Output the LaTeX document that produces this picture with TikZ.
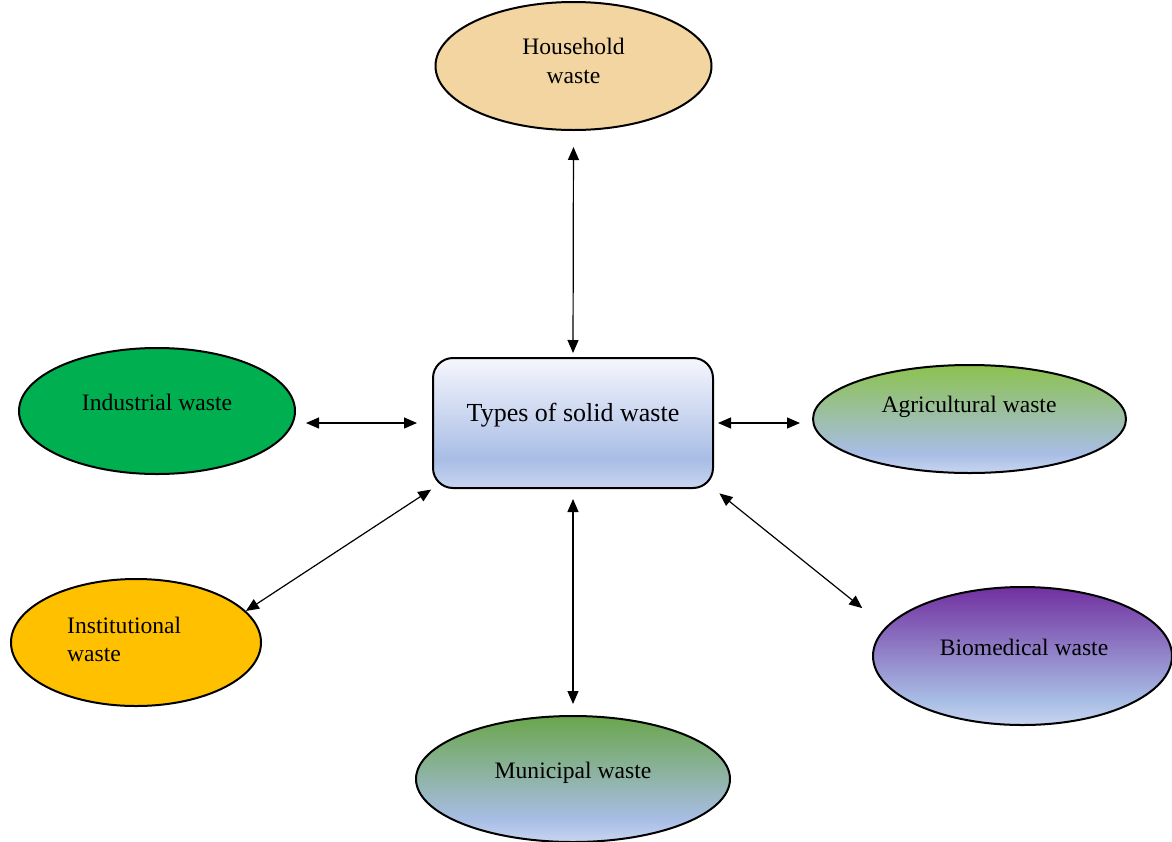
\documentclass[tikz,border=0pt]{standalone}
\usepackage{fontspec}
\setmainfont{Liberation Serif}
\usetikzlibrary{shapes.geometric,arrows.meta}
\definecolor{lbl}{RGB}{200,213,240}
\definecolor{mbl}{RGB}{168,189,229}
\definecolor{agrg}{RGB}{140,194,78}
\definecolor{munig}{RGB}{106,166,76}
\definecolor{biop}{RGB}{113,48,160}
\definecolor{boxtop}{RGB}{246,246,253}
\definecolor{papyrus}{RGB}{242,213,160}
\definecolor{indg}{RGB}{0,176,80}
\definecolor{insty}{RGB}{255,192,0}
\pgfdeclareverticalshading{agrishade}{100bp}{color(0bp)=(lbl); color(25bp)=(lbl); color(34bp)=(mbl); color(75bp)=(agrg); color(100bp)=(agrg)}
\pgfdeclareverticalshading{munishade}{100bp}{color(0bp)=(lbl); color(25bp)=(lbl); color(34bp)=(mbl); color(75bp)=(munig); color(100bp)=(munig)}
\pgfdeclareverticalshading{bioshade}{100bp}{color(0bp)=(lbl); color(25bp)=(lbl); color(34bp)=(mbl); color(75bp)=(biop); color(100bp)=(biop)}
\pgfdeclareverticalshading{boxshade}{100bp}{color(0bp)=(lbl); color(25bp)=(lbl); color(36bp)=(mbl); color(75bp)=(boxtop); color(100bp)=(boxtop)}
\tikzset{
  oval/.style={ellipse, draw=black, line width=2pt, inner sep=0pt},
  lbl/.style={font=\fontsize{23.6}{28.5}\selectfont, inner sep=0pt, anchor=base},
  arr/.style={{Triangle[length=13pt,width=11pt]}-{Triangle[length=13pt,width=11pt]}, line width=1.2pt, black}
}
\begin{document}
\begin{tikzpicture}[x=1pt,y=-1pt]
\useasboundingbox (0,0) rectangle (1172,841);
\fill[white] (0,0) rectangle (1172,841);
% centre box
\node[draw=black, line width=2pt, rounded corners=20pt, shading=boxshade,
      minimum width=280pt, minimum height=130pt, inner sep=0pt] (box) at (573,423) {};
\node[font=\fontsize{26}{30}\selectfont, inner sep=0pt, anchor=base] (boxT) at (573,421.5) {Types of solid waste};
% ellipses
\node[oval, fill=papyrus, minimum width=276pt, minimum height=128pt] (hh) at (573.5,66) {};
\node[oval, fill=indg, minimum width=276pt, minimum height=126pt] (ind) at (157,411) {};
\node[oval, shading=agrishade, minimum width=313pt, minimum height=108pt] (agr) at (969.5,419) {};
\node[oval, fill=insty, minimum width=250pt, minimum height=127pt] (inst) at (136,642.5) {};
\node[oval, shading=bioshade, minimum width=299pt, minimum height=138pt] (bio) at (1022.5,656) {};
\node[oval, shading=munishade, minimum width=314pt, minimum height=126pt] (mun) at (573,779) {};
% labels
\node[lbl] (hhT1) at (573.5,54.5) {Household};
\node[lbl] (hhT2) at (573.5,83) {waste};
\node[lbl] (indT) at (157,410) {Industrial waste};
\node[lbl] (agrT) at (969,412) {Agricultural waste};
\node[lbl, anchor=base west] (instT1) at (67,633) {Institutional};
\node[lbl, anchor=base west] (instT2) at (67,661) {waste};
\node[lbl] (bioT) at (1024,655) {Biomedical waste};
\node[lbl] (munT) at (573,778) {Municipal waste};
% connectors
\draw[arr, shorten <=16pt, shorten >=4pt] (hh.south) -- (box.north);
\draw[arr, shorten <=10pt, shorten >=11pt] (box.south) -- (mun.north);
\draw[arr, shorten <=10pt, shorten >=15pt] (ind.east |- box.west) -- (box.west);
\draw[arr, shorten <=4pt, shorten >=12pt] (box.east) -- (agr.west |- box.east);
\draw[arr, shorten <=1pt, shorten >=0pt] (box.south west) -- (inst.16);
\draw[arr, shorten <=7pt, shorten >=30pt] (box.south east) -- (bio.168);
\end{tikzpicture}
\end{document}
